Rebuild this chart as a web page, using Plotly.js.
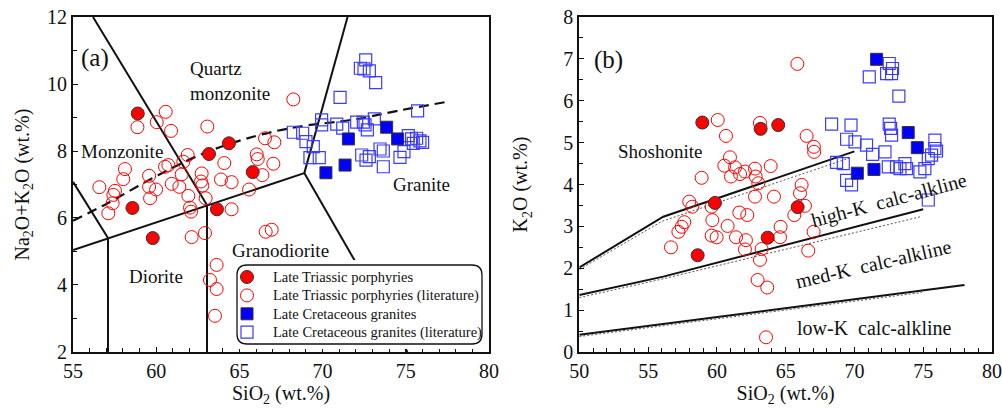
<!DOCTYPE html>
<html>
<head>
<meta charset="utf-8">
<script src="https://cdn.plot.ly/plotly-3.0.1.min.js"></script>
<style>
html,body{margin:0;padding:0;background:#fff;}
#chart{width:1002px;height:409px;}
</style>
</head>
<body>
<div id="chart"></div>
<script>
// ---------- Panel (a): TAS diagram data ----------
const triPorphA_x = [58.89, 64.37, 63.17, 65.80, 58.57, 63.65, 59.79];
const triPorphA_y = [9.12, 8.23, 7.91, 7.37, 6.30, 6.26, 5.40];

const triLitA_x = [60.57, 60.03, 58.87, 60.89, 63.07, 68.24, 66.54, 67.10, 66.04, 66.10,
                   67.04, 64.09, 66.38, 65.58, 61.89, 61.63, 60.73, 60.53, 58.12, 58.02,
                   59.57, 62.73, 61.53, 63.89, 64.53, 62.69, 62.77, 60.93, 61.39, 59.99,
                   59.57, 59.63, 56.58, 57.52, 57.42, 57.38, 57.12, 61.93, 62.97, 62.03,
                   62.09, 64.53, 62.13, 62.93, 66.58, 66.94, 63.63, 63.23, 63.63, 63.53];
const triLitA_y = [9.17, 8.86, 8.71, 8.60, 8.73, 9.54, 8.38, 8.26, 7.90, 7.76,
                   7.62, 7.64, 7.28, 6.85, 7.88, 7.68, 7.58, 7.53, 7.46, 7.16,
                   7.26, 7.33, 7.30, 7.15, 7.07, 7.09, 6.97, 7.02, 6.93, 6.85,
                   6.93, 6.59, 6.92, 6.81, 6.69, 6.44, 6.14, 6.66, 6.59, 6.31,
                   6.19, 6.26, 5.43, 5.55, 5.59, 5.65, 4.60, 4.15, 3.88, 3.08];

const creGranA_x = [71.55, 73.85, 74.51, 71.35, 70.20];
const creGranA_y = [8.36, 8.71, 8.36, 7.58, 7.35];

const creLitA_x = [72.59, 72.27, 72.49, 72.81, 73.19, 71.05, 75.71, 68.24, 68.80, 69.00,
                   69.44, 69.24, 69.80, 69.94, 69.94, 70.85, 71.21, 72.05, 72.45, 72.69,
                   73.11, 72.55, 72.35, 72.61, 72.81, 73.45, 73.65, 73.65, 74.65, 74.89,
                   75.15, 75.35, 75.65, 75.85, 75.45, 76.01];
const creLitA_y = [10.72, 10.47, 10.45, 10.39, 10.04, 9.60, 9.20, 8.56, 8.53, 8.28,
                   8.13, 7.80, 7.80, 8.78, 8.93, 8.80, 8.68, 8.86, 8.86, 8.63,
                   8.96, 8.78, 7.88, 7.73, 7.83, 8.06, 8.00, 7.53, 7.81, 7.98,
                   8.46, 8.36, 8.38, 8.30, 8.23, 8.26];

// TAS field boundaries (null separates segments)
const tasLine_x = [56.2, 63.05, null, 55, 57.1, null, 57.1, 57.1, null, 55, 68.9, null,
                   63.05, 63.05, null, 68.9, 71.5, null, 68.9, 75.1];
const tasLine_y = [12, 6.39, null, 7.08, 5.40, null, 5.40, 2, null, 5.04, 7.34, null,
                   6.39, 2, null, 7.34, 12, null, 7.34, 2];
// Alkaline / subalkaline divide (dashed)
const alkLine_x = [55, 57, 60, 63, 66, 68.5, 72, 74.5, 77.5];
const alkLine_y = [5.92, 6.42, 7.25, 7.96, 8.45, 8.72, 8.95, 9.20, 9.47];

// ---------- Panel (b): SiO2 vs K2O data ----------
const triPorphB_x = [58.94, 63.18, 64.46, 59.86, 65.87, 63.69, 58.60];
const triPorphB_y = [5.48, 5.33, 5.42, 3.56, 3.46, 2.73, 2.31];

const triLitB_x = [65.85, 60.06, 63.13, 60.66, 66.52, 67.05, 67.07, 60.95, 60.54, 61.32,
                   61.68, 61.02, 62.04, 62.77, 62.82, 63.01, 63.91, 58.89, 66.16, 66.04,
                   65.63, 62.77, 64.15, 57.99, 58.21, 59.62, 61.63, 62.21, 57.63, 57.44,
                   57.20, 59.67, 60.78, 59.62, 59.98, 61.39, 62.11, 62.04, 63.25, 64.63,
                   64.59, 56.66, 66.64, 63.13, 62.96, 63.66, 63.57, 67.03, 66.40];
const triLitB_y = [6.88, 5.54, 5.47, 5.16, 5.16, 4.90, 4.78, 4.65, 4.45, 4.41,
                   4.25, 4.19, 4.31, 4.38, 4.19, 4.03, 4.44, 4.16, 3.99, 3.79,
                   3.27, 3.71, 3.71, 3.59, 3.47, 3.47, 3.33, 3.27, 3.10, 2.99,
                   2.87, 3.15, 3.01, 2.78, 2.74, 2.74, 2.67, 2.45, 2.46, 2.99,
                   2.74, 2.50, 2.42, 2.20, 1.72, 1.54, 0.35, 2.87, 3.49];

const creGranB_x = [71.61, 73.91, 74.57, 71.42, 70.21];
const creGranB_y = [6.99, 5.24, 4.88, 4.36, 4.27];

const creLitB_x = [72.53, 72.77, 72.70, 72.34, 71.08, 73.23, 68.34, 69.75, 72.53, 72.63,
                   72.70, 69.43, 70.04, 70.88, 71.32, 72.22, 68.70, 69.19, 69.43, 69.79,
                   72.46, 73.06, 73.67, 73.79, 74.76, 75.12, 75.37, 75.85, 75.85, 75.97,
                   75.61, 75.37, 73.31];
const creLitB_y = [6.89, 6.77, 6.65, 6.65, 6.57, 6.11, 5.44, 5.42, 5.44, 5.34,
                   5.18, 5.08, 5.02, 4.94, 4.72, 4.78, 4.53, 4.50, 4.10, 3.99,
                   4.42, 4.42, 4.50, 4.38, 4.30, 4.38, 4.62, 5.06, 4.86, 4.80,
                   4.70, 3.63, 4.38];

// Peccerillo & Taylor series boundaries
const ptLine_x = [50, 56.1, 70, null, 50, 56.1, 75, null, 50, 78];
const ptLine_y = [2.02, 3.23, 4.79, null, 1.36, 1.80, 3.41, null, 0.41, 1.60];
const ptDot_x = [50, 56, 69.8, null, 50, 56, 74.8, null, 50, 74.9];
const ptDot_y = [1.97, 3.12, 4.65, null, 1.30, 1.74, 3.23, null, 0.37, 1.42];

const seriesNames = ['Late Triassic porphyries', 'Late Triassic porphyries (literature)',
                     'Late Cretaceous granites', 'Late Cretaceous granites (literature)'];

// ---------- styling ----------
const FONT = 'Liberation Serif, Times New Roman, serif';
const RED = '#ff0000', BLUE = '#0000ff', OPENBLUE = '#3c3cff';

function styles(i) {
  return [
    {symbol: 'circle', size: 13, color: RED, line: {color: '#333', width: 1}},
    {symbol: 'circle-open', size: 13, color: RED, line: {width: 1}},
    {symbol: 'square', size: 12, color: BLUE, line: {color: '#333', width: 1}},
    {symbol: 'square-open', size: 12, color: OPENBLUE, line: {width: 1.2}}
  ][i];
}

const traces = [];
// boundary lines
traces.push({x: tasLine_x, y: tasLine_y, xaxis: 'x', yaxis: 'y', mode: 'lines',
  line: {color: '#111', width: 2}, connectgaps: false, showlegend: false, hoverinfo: 'skip'});
traces.push({x: alkLine_x, y: alkLine_y, xaxis: 'x', yaxis: 'y', mode: 'lines',
  line: {color: '#111', width: 2.2, dash: '10px,6px', shape: 'spline'}, showlegend: false, hoverinfo: 'skip'});
traces.push({x: ptDot_x, y: ptDot_y, xaxis: 'x2', yaxis: 'y2', mode: 'lines',
  line: {color: '#555', width: 1, dash: '2px,2px'}, connectgaps: false, showlegend: false, hoverinfo: 'skip'});
traces.push({x: ptLine_x, y: ptLine_y, xaxis: 'x2', yaxis: 'y2', mode: 'lines',
  line: {color: '#111', width: 2}, connectgaps: false, showlegend: false, hoverinfo: 'skip'});

const dataA = [[triPorphA_x, triPorphA_y], [triLitA_x, triLitA_y], [creGranA_x, creGranA_y], [creLitA_x, creLitA_y]];
const dataB = [[triPorphB_x, triPorphB_y], [triLitB_x, triLitB_y], [creGranB_x, creGranB_y], [creLitB_x, creLitB_y]];
// draw open symbols first, filled on top
const order = [1, 3, 0, 2];
order.forEach(i => {
  traces.push({x: dataA[i][0], y: dataA[i][1], xaxis: 'x', yaxis: 'y', mode: 'markers',
    name: seriesNames[i], showlegend: false, marker: styles(i)});
});
order.forEach(i => {
  traces.push({x: dataB[i][0], y: dataB[i][1], xaxis: 'x2', yaxis: 'y2', mode: 'markers',
    name: seriesNames[i], showlegend: false, marker: styles(i)});
});

// ---------- hand-built legend (rounded box) on an overlay subplot in pixel units ----------
const LEG = {left: 232, right: 487, top: 260, bottom: 349};          // subplot extent (px)
const BOX = {x0: 237, x1: 482, y0: 265, y1: 344, r: 10};             // rounded box (px)
const legRow0 = 277, legStep = 18.4, legSymX = 247, legTextX = 271;
seriesNames.forEach((nm, i) => {
  traces.push({x: [legSymX], y: [legRow0 + i * legStep], xaxis: 'x3', yaxis: 'y3',
    mode: 'markers', name: nm, showlegend: false, hoverinfo: 'skip', cliponaxis: false,
    marker: styles(i)});
});
const b = BOX;
const boxPath = `M ${b.x0 + b.r},${b.y0} L ${b.x1 - b.r},${b.y0} Q ${b.x1},${b.y0} ${b.x1},${b.y0 + b.r} ` +
  `L ${b.x1},${b.y1 - b.r} Q ${b.x1},${b.y1} ${b.x1 - b.r},${b.y1} L ${b.x0 + b.r},${b.y1} ` +
  `Q ${b.x0},${b.y1} ${b.x0},${b.y1 - b.r} L ${b.x0},${b.y0 + b.r} Q ${b.x0},${b.y0} ${b.x0 + b.r},${b.y0} Z`;

const axisBase = {
  showgrid: false, zeroline: false, showline: true, linecolor: '#111', linewidth: 2,
  mirror: true, ticks: 'inside', ticklen: 5, tickwidth: 1, tickcolor: '#111',
  tickfont: {family: FONT, size: 20, color: '#111'},
  minor: {ticks: 'inside', ticklen: 4, tickwidth: 1, tickcolor: '#111'}
};

function ann(text, x, y, xr, yr, opts) {
  return Object.assign({text: text, x: x, y: y, xref: xr, yref: yr, showarrow: false,
    font: {family: FONT, size: 19, color: '#111'}}, opts || {});
}

const W = 1002, H = 409;
const annotations = [
  ann('(a)', 56.3, 10.78, 'x', 'y', {font: {family: FONT, size: 25, color: '#111'}}),
  ann('Quartz<br>monzonite', 61.9, 10.1, 'x', 'y', {xanchor: 'left', align: 'left'}),
  ann('Monzonite', 57.97, 7.98, 'x', 'y'),
  ann('Diorite', 59.96, 4.25, 'x', 'y'),
  ann('Granodiorite', 67.44, 5.04, 'x', 'y'),
  ann('Granite', 75.94, 6.99, 'x', 'y'),
  ann('(b)', 52.09, 6.97, 'x2', 'y2', {font: {family: FONT, size: 25, color: '#111'}}),
  ann('Shoshonite', 55.87, 4.78, 'x2', 'y2'),
  ann('high-K\u00a0\u00a0calc-alkline', 72.5, 3.62, 'x2', 'y2', {textangle: -15, font: {family: FONT, size: 20, color: '#111'}}),
  ann('med-K\u00a0\u00a0calc-alkline', 71.35, 2.10, 'x2', 'y2', {textangle: -13, font: {family: FONT, size: 20, color: '#111'}}),
  ann('low-K\u00a0\u00a0calc-alkline', 71.4, 0.57, 'x2', 'y2', {font: {family: FONT, size: 20, color: '#111'}})
];
seriesNames.forEach((nm, i) => {
  annotations.push(ann(nm, legTextX, legRow0 + i * legStep, 'x3', 'y3',
    {xanchor: 'left', yanchor: 'middle', font: {family: FONT, size: 14.5, color: '#111'}}));
});

const layout = {
  width: W, height: H,
  margin: {l: 0, r: 0, t: 0, b: 0},
  paper_bgcolor: '#fff', plot_bgcolor: '#fff',
  showlegend: false,
  font: {family: FONT, color: '#111'},
  xaxis: Object.assign({}, axisBase, {domain: [0.0729, 0.488], range: [55, 80], dtick: 5, tick0: 55,
    minor: Object.assign({}, axisBase.minor, {dtick: 1}),
    title: {text: 'SiO<sub>2</sub> (wt.%)', font: {family: FONT, size: 20}, standoff: 1}, anchor: 'y'}),
  yaxis: Object.assign({}, axisBase, {domain: [0.1394, 0.9584], range: [2, 12], dtick: 2, tick0: 2,
    minor: Object.assign({}, axisBase.minor, {dtick: 1}),
    title: {text: 'Na<sub>2</sub>O+K<sub>2</sub>O (wt.%)', font: {family: FONT, size: 20}, standoff: 12}, anchor: 'x'}),
  xaxis2: Object.assign({}, axisBase, {domain: [0.5782, 0.990], range: [50, 80], dtick: 5, tick0: 50,
    minor: Object.assign({}, axisBase.minor, {dtick: 1}),
    title: {text: 'SiO<sub>2</sub> (wt.%)', font: {family: FONT, size: 20}, standoff: 1}, anchor: 'y2'}),
  yaxis2: Object.assign({}, axisBase, {domain: [0.1394, 0.9584], range: [0, 8], dtick: 1, tick0: 0,
    minor: Object.assign({}, axisBase.minor, {dtick: 0.5}),
    title: {text: 'K<sub>2</sub>O (wt.%)', font: {family: FONT, size: 20}, standoff: 30}, anchor: 'x2'}),
  xaxis3: {domain: [LEG.left / W, LEG.right / W], range: [LEG.left, LEG.right], visible: false,
    fixedrange: true, anchor: 'y3'},
  yaxis3: {domain: [1 - LEG.bottom / H, 1 - LEG.top / H], range: [LEG.bottom, LEG.top], visible: false,
    fixedrange: true, anchor: 'x3'},
  shapes: [{
    type: 'path', xref: 'x3', yref: 'y3', layer: 'below', path: boxPath,
    fillcolor: '#fff', line: {color: '#111', width: 1.3}
  }],
  annotations: annotations
};

Plotly.newPlot('chart', traces, layout, {staticPlot: true, displayModeBar: false});
</script>
</body>
</html>
